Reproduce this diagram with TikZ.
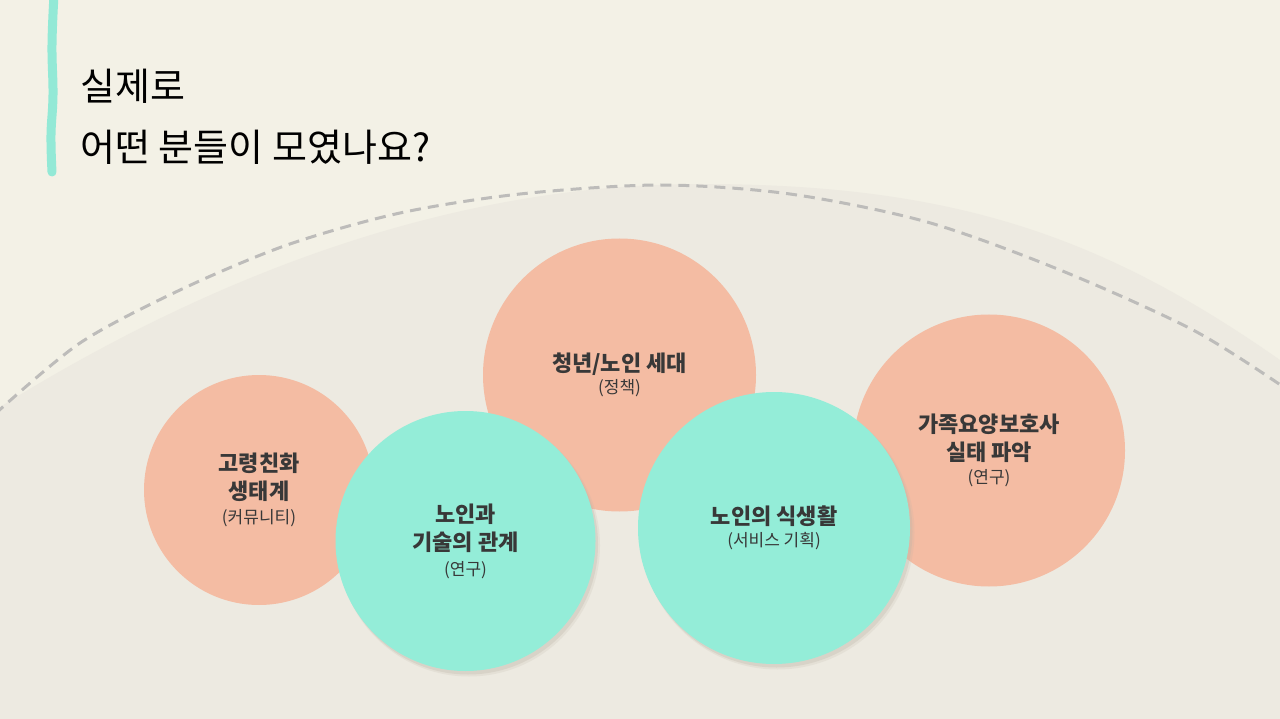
\documentclass[tikz,border=0pt]{standalone}
\usepackage{fontspec}
\setmainfont{Noto Sans CJK KR}
\definecolor{bgc}{HTML}{F3F1E6}
\definecolor{blobc}{HTML}{EDEAE1}
\definecolor{salmonc}{HTML}{F4BCA3}
\definecolor{tealc}{HTML}{94EDD8}
\definecolor{barc}{HTML}{93E9D6}
\definecolor{dashc}{HTML}{BDBCBA}
\definecolor{txtc}{HTML}{383838}
\definecolor{shadowc}{HTML}{BDB6A8}
\begin{document}
\begin{tikzpicture}[x=1pt,y=-1pt,
  ball/.style={circle,inner sep=0pt,align=center,text=txtc,
    font=\fontsize{22}{28}\selectfont\bfseries},
  salmonball/.style={ball,fill=salmonc},
  tealball/.style={ball,fill=tealc},
  titletext/.style={anchor=base west,text=black,font=\fontsize{38}{44}\selectfont},
  dashline/.style={draw=dashc,line width=3pt,dash pattern=on 11pt off 7pt},
  barline/.style={draw=barc,line width=9pt,line cap=round}]
\newcommand{\subl}[1]{{\fontsize{17}{20}\selectfont\mdseries #1}}
\useasboundingbox (0,0) rectangle (1280,719);
\fill[bgc] (0,0) rectangle (1280,719);
% background blob
\fill[blobc] (0,407) .. controls (200,283) and (440,184) .. (700,184)
  .. controls (950,184) and (1100,234) .. (1280,360) -- (1280,719) -- (0,719) -- cycle;
% dashed arc
\draw[dashline] plot[smooth] coordinates {(-5,414) (80,343) (180,290) (287,245) (400,213) (520,194) (660,185) (790,194) (927,222) (1060,270) (1193,330) (1285,388)};
% left bar
\draw[barline] plot[smooth,tension=0.7] coordinates {(54,-5) (52,45) (53,95) (51,135) (52,172)};
% title
\node[titletext] (title1) at (77,101) {실제로};
\node[titletext] (title2) at (77,162) {어떤 분들이 모였나요?};
% salmon circles
\node[salmonball,minimum size=230pt] (s1) at (259,490) {고령친화\\생태계\\[-4pt]\subl{(커뮤니티)}};
\node[salmonball,minimum size=273pt] (s2) at (619.5,375) {청년/노인 세대\\[-6pt]\subl{(정책)}};
\node[salmonball,minimum size=272pt] (s3) at (989,450.5) {가족요양보호사\\실태 파악\\[-5pt]\subl{(연구)}};
% shadows of teal circles
\foreach \cx/\cy/\r in {465.5/541/130, 774/528/136}{
  \fill[shadowc,opacity=0.18] (\cx+3.5,\cy+4.5) circle (\r+1);
  \fill[shadowc,opacity=0.30] (\cx+2.5,\cy+3.5) circle (\r);
}
% teal circles
\node[tealball,minimum size=260pt] (t1) at (465.5,541) {노인과\\기술의 관계\\[-3pt]\subl{(연구)}};
\node[tealball,minimum size=272pt] (t2) at (774,528) {노인의 식생활\\[-6pt]\subl{(서비스 기획)}};
\end{tikzpicture}
\end{document}
